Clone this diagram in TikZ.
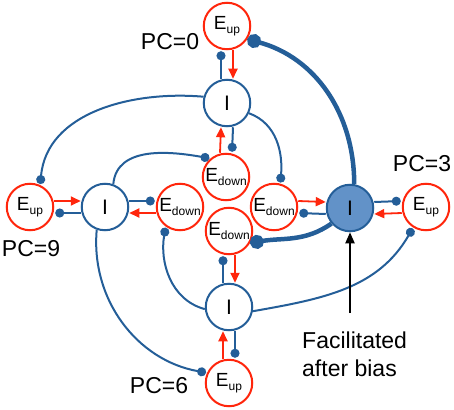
\documentclass[tikz,border=0pt]{standalone}
\usepackage{fontspec}
\setmainfont{Liberation Sans}
\usetikzlibrary{arrows.meta}

\definecolor{netblaa}{RGB}{36,94,152}
\definecolor{netroed}{RGB}{255,38,12}
\definecolor{fyldblaa}{RGB}{98,146,200}

\newcommand{\Eind}[1]{E\raisebox{-3.5pt}{\fontsize{12}{12}\selectfont #1}}

\tikzset{
	exc/.style={circle,draw=netroed,line width=2pt,minimum size=46.5pt,inner sep=0pt,fill=white,font=\fontsize{19}{19}\selectfont},
	inh/.style={circle,draw=netblaa,line width=2pt,minimum size=46.5pt,inner sep=0pt,fill=white,font=\fontsize{21}{21}\selectfont},
	fwd/.style={netroed,line width=1.8pt,-{Triangle[length=10pt,width=9pt]}},
	hem/.style={netblaa,line width=2pt,-{Circle[length=9pt]},shorten >=1pt},
	hemtyk/.style={netblaa,line width=4.5pt,-{Circle[length=14pt]}},
	pc/.style={font=\fontsize{23}{23}\selectfont}
}

\begin{document}
\begin{tikzpicture}[x=1pt,y=1pt]
  \useasboundingbox (0,0) rectangle (454,-409);

  %PC=0 (top)
	\node[exc] (Eup0) at (227,-26) {\Eind{up}};
	\node[inh] (I0) at (227,-103) {I};
	\node[exc] (Ed0) at (226,-177) {\Eind{down}};
	\node[pc] (pc0) at (170,-42) {PC=0};

  %PC=3 (hoejre)
	\node[exc] (Ed3) at (274,-207) {\Eind{down}};
	\node[inh,fill=fyldblaa] (I3) at (350,-208) {I};
	\node[exc] (Eup3) at (426,-207) {\Eind{up}};
	\node[pc] (pc3) at (422,-164) {PC=3};

  %PC=6 (bund)
	\node[exc] (Ed6) at (229,-231) {\Eind{down}};
	\node[inh] (I6) at (229,-307) {I};
	\node[exc] (Eup6) at (229,-383) {\Eind{up}};
	\node[pc] (pc6) at (159,-386) {PC=6};

  %PC=9 (venstre)
	\node[exc] (Eup9) at (30,-207) {\Eind{up}};
	\node[inh] (I9) at (105,-207) {I};
	\node[exc] (Ed9) at (180,-207) {\Eind{down}};
	\node[pc] (pc9) at (31,-249) {PC=9};

  %korte forbindelser
	\draw[fwd] ([xshift=6pt]Eup0.south) -- ([xshift=6pt]I0.north);
	\draw[hem] ([xshift=-6pt]I0.north) -- ([xshift=-6pt]Eup0.south);
	\draw[fwd] ([xshift=-6pt]Ed0.north) -- ([xshift=-6pt]I0.south);
	\draw[hem] ([xshift=6pt]I0.south) -- ([xshift=6pt]Ed0.north);

	\draw[fwd] ([yshift=6pt]Ed3.east) -- ([yshift=6pt]I3.west);
	\draw[hem] ([yshift=-6pt]I3.west) -- ([yshift=-6pt]Ed3.east);
	\draw[hem] ([yshift=6pt]I3.east) -- ([yshift=6pt]Eup3.west);
	\draw[fwd] ([yshift=-6pt]Eup3.west) -- ([yshift=-6pt]I3.east);

	\draw[hem] ([xshift=-6pt]I6.north) -- ([xshift=-6pt]Ed6.south);
	\draw[fwd] ([xshift=6pt]Ed6.south) -- ([xshift=6pt]I6.north);
	\draw[fwd] ([xshift=-6pt]Eup6.north) -- ([xshift=-6pt]I6.south);
	\draw[hem] ([xshift=6pt]I6.south) -- ([xshift=6pt]Eup6.north);

	\draw[fwd] ([yshift=6pt]Eup9.east) -- ([yshift=6pt]I9.west);
	\draw[hem] ([yshift=-6pt]I9.west) -- ([yshift=-6pt]Eup9.east);
	\draw[hem] ([yshift=6pt]I9.east) -- ([yshift=6pt]Ed9.west);
	\draw[fwd] ([yshift=-6pt]Ed9.west) -- ([yshift=-6pt]I9.east);

  %lange buer
	\draw[hem] (I0.165) to[out=175,in=85] (Eup9.65);
	\draw[hem] (I9.70) to[out=85,in=170] (Ed0.130);
	\draw[hem] (I0.-25) to[out=-20,in=85] (Ed3.75);
	\draw[hem] (I6.-10) to[out=10,in=240] (Eup3.238);
	\draw[hem] (I6.185) to[out=165,in=-100] (Ed9.234);
	\draw[hem] (I9.250) to[out=265,in=170] (Eup6.155);
	\draw[hemtyk] (I3.80) to[out=90,in=-15] (Eup0.-33);
	\draw[hemtyk] (I3.220) to[out=215,in=10] (Ed6.-30);

  %tekst med pil
	\node[anchor=north west,align=left,inner sep=0pt,font=\fontsize{23}{28}\selectfont] (fac) at (302,-332) {Facilitated\\after bias};
	\draw[line width=1.8pt,-{Triangle[length=11pt,width=9pt]},shorten <=19pt] (I3.south |- fac.north) -- (I3.south);
\end{tikzpicture}
\end{document}
